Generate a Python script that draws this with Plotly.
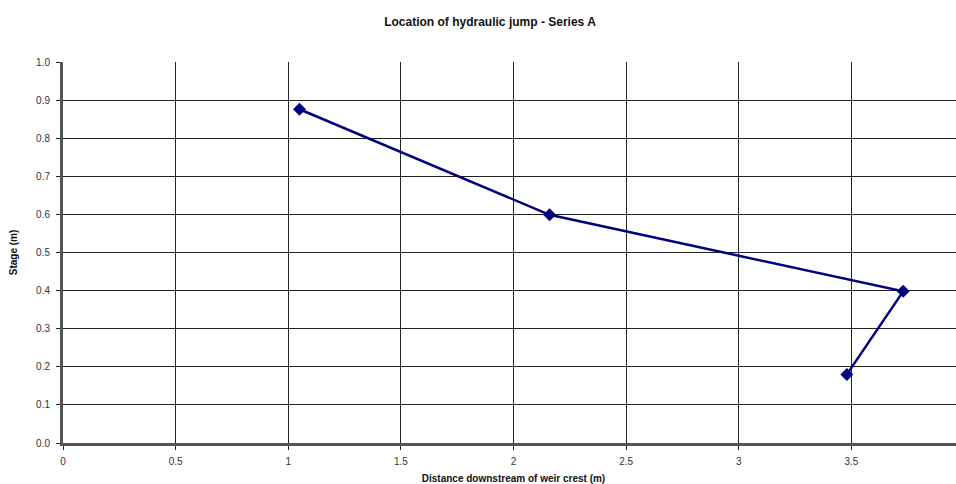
import plotly.graph_objects as go

distance_m = [1.05, 2.16, 3.73, 3.48]
stage_m = [0.876, 0.599, 0.398, 0.180]

x_ticks = [0, 0.5, 1, 1.5, 2, 2.5, 3, 3.5]
x_tick_labels = ["0", "0.5", "1", "1.5", "2", "2.5", "3", "3.5"]
y_ticks = [0.0, 0.1, 0.2, 0.3, 0.4, 0.5, 0.6, 0.7, 0.8, 0.9, 1.0]
y_tick_labels = ["0.0", "0.1", "0.2", "0.3", "0.4", "0.5", "0.6", "0.7", "0.8", "0.9", "1.0"]

fig = go.Figure()
fig.add_trace(go.Scatter(
    x=distance_m, y=stage_m, mode="lines+markers",
    line=dict(color="#000080", width=2.5),
    marker=dict(symbol="diamond", size=10, color="#000080"),
    showlegend=False,
))

font = "Liberation Sans, Arial, sans-serif"
W, H = 964, 484
fig.update_layout(
    width=W, height=H,
    margin=dict(l=63, r=0, t=62, b=41, autoexpand=False),
    paper_bgcolor="white", plot_bgcolor="white",
    font=dict(family=font, size=10, color="#333333"),
    title=dict(text="<b>Location of hydraulic jump - Series A</b>",
               x=490/W, xanchor="center", xref="container",
               y=1 - 22/H, yanchor="middle", yref="container",
               font=dict(family=font, size=12, color="#111111")),
)
fig.update_xaxes(
    range=[0, 4.0], tickvals=x_ticks, ticktext=x_tick_labels,
    showgrid=True, gridcolor="#222222", gridwidth=1,
    showline=True, linecolor="#555555", linewidth=3,
    ticks="outside", ticklen=4, tickcolor="#222222",
    ticklabelstandoff=3, automargin=False,
    zeroline=False,
    title=dict(text="<b>Distance downstream of weir crest (m)</b>",
               font=dict(family=font, size=10, color="#111111"), standoff=9),
)
fig.update_yaxes(
    range=[0, 1.0], tickvals=y_ticks, ticktext=y_tick_labels,
    showgrid=True, gridcolor="#222222", gridwidth=1,
    showline=True, linecolor="#555555", linewidth=3,
    ticks="outside", ticklen=4, tickcolor="#222222",
    ticklabelstandoff=4, automargin=False,
    zeroline=False,
    title=dict(text="<b>Stage (m)</b>",
               font=dict(family=font, size=10, color="#111111"), standoff=17),
)
fig.write_html(
    "out.html",
    config={"displayModeBar": False},
    post_script="document.documentElement.style.overflow='hidden';document.body.style.margin='0';document.body.style.overflow='hidden';",
)
